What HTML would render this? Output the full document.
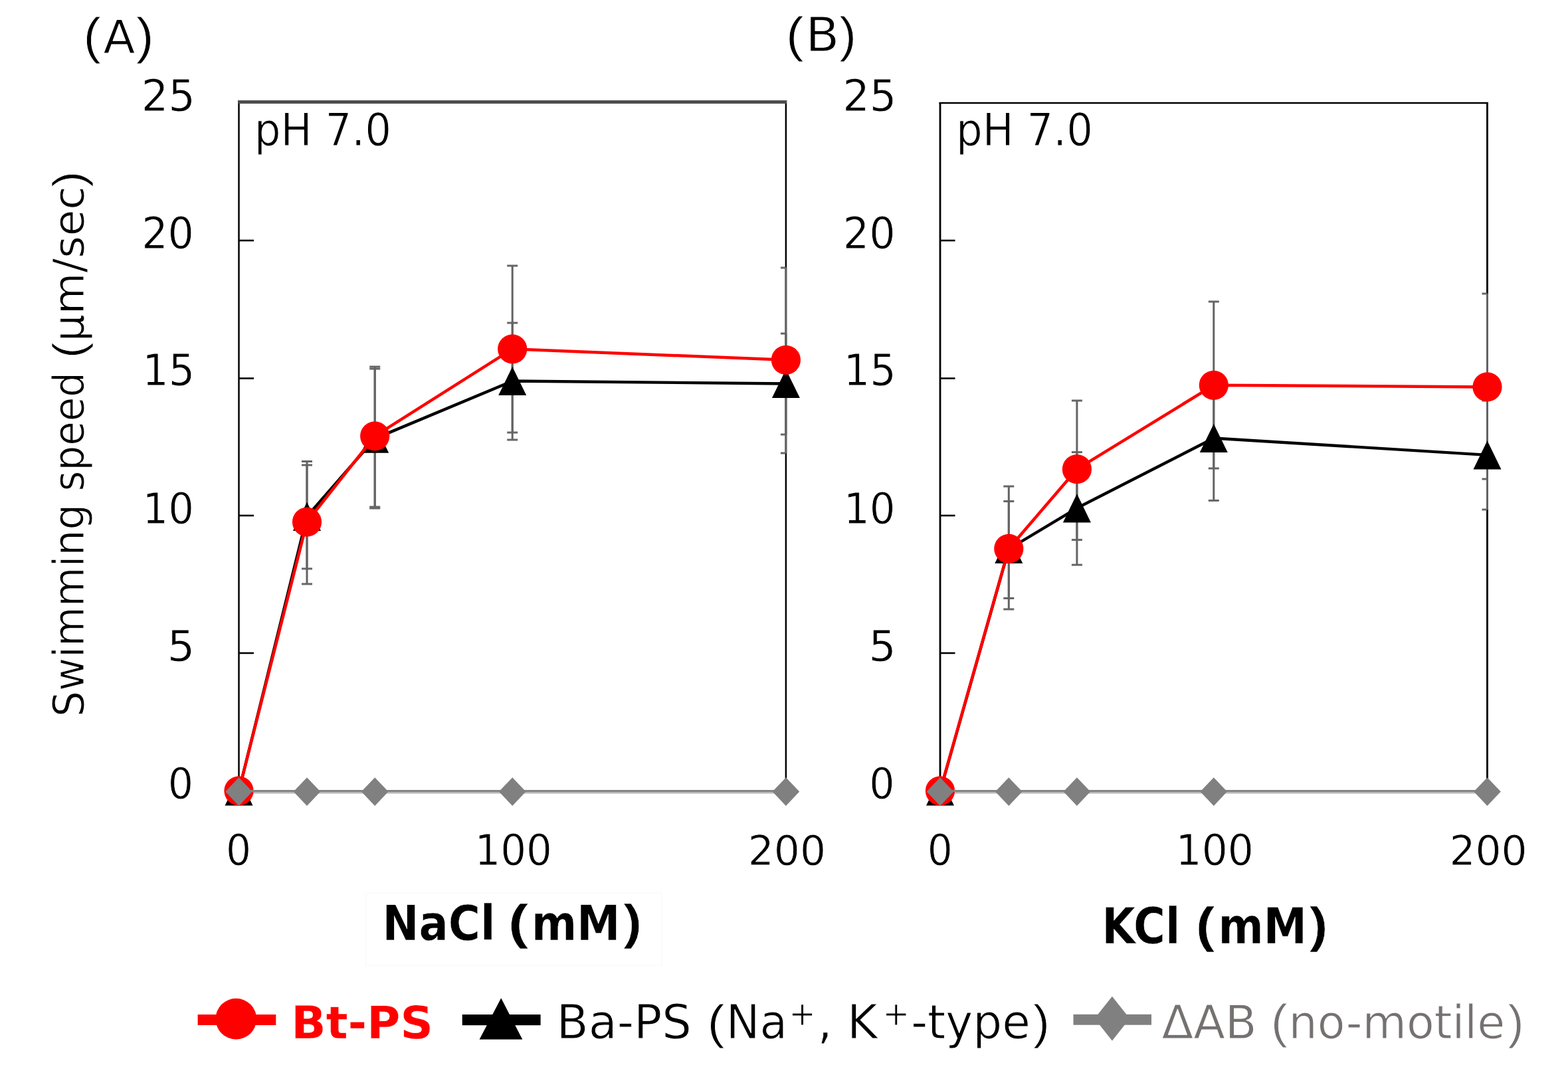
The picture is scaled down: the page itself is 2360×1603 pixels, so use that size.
<!DOCTYPE html>
<html><head><meta charset="utf-8"><title>Swimming speed vs NaCl / KCl</title>
<style>html,body{margin:0;padding:0;background:#fff;}svg{display:block;}
</style></head>
<body><svg width="2360" height="1603" viewBox="0 0 2360 1603" font-family="'DejaVu Sans', 'Liberation Sans', sans-serif" font-size="100">
<rect x="0" y="0" width="2360" height="1603" fill="#fff"/>
<rect x="551" y="1344" width="445" height="109" fill="none" stroke="#fbfbfb" stroke-width="2"/>
<line x1="359.5" y1="1193.2" x2="1182.9" y2="1193.2" stroke="#b8b8b8" stroke-width="2.6"/>
<line x1="359.5" y1="362" x2="382.0" y2="362" stroke="#000" stroke-width="2.6"/>
<line x1="359.5" y1="569.5" x2="382.0" y2="569.5" stroke="#000" stroke-width="2.6"/>
<line x1="359.5" y1="776" x2="382.0" y2="776" stroke="#000" stroke-width="2.6"/>
<line x1="359.5" y1="983" x2="382.0" y2="983" stroke="#000" stroke-width="2.6"/>
<line x1="359.5" y1="151" x2="359.5" y2="1190" stroke="#000" stroke-width="2.5"/>
<line x1="1182.9" y1="151" x2="1182.9" y2="1190" stroke="#000" stroke-width="2.5"/>
<line x1="358.3" y1="153.6" x2="1184.2" y2="153.6" stroke="#4d4d4d" stroke-width="5"/>
<line x1="462.0" y1="700" x2="462.0" y2="856" stroke="#636363" stroke-width="3"/>
<line x1="454.0" y1="700" x2="470.0" y2="700" stroke="#666" stroke-width="3"/>
<line x1="454.0" y1="856" x2="470.0" y2="856" stroke="#666" stroke-width="3"/>
<line x1="564.2" y1="555" x2="564.2" y2="763" stroke="#636363" stroke-width="3"/>
<line x1="556.2" y1="555" x2="572.2" y2="555" stroke="#666" stroke-width="3"/>
<line x1="556.2" y1="763" x2="572.2" y2="763" stroke="#666" stroke-width="3"/>
<line x1="771.2" y1="486" x2="771.2" y2="662" stroke="#636363" stroke-width="3"/>
<line x1="763.2" y1="486" x2="779.2" y2="486" stroke="#666" stroke-width="3"/>
<line x1="763.2" y1="662" x2="779.2" y2="662" stroke="#666" stroke-width="3"/>
<line x1="1182.9" y1="502" x2="1182.9" y2="654" stroke="#636363" stroke-width="3"/>
<line x1="1174.9" y1="502" x2="1182.9" y2="502" stroke="#666" stroke-width="3"/>
<line x1="1174.9" y1="654" x2="1182.9" y2="654" stroke="#666" stroke-width="3"/>
<line x1="462.0" y1="694.5" x2="462.0" y2="879" stroke="#636363" stroke-width="3"/>
<line x1="454.0" y1="694.5" x2="470.0" y2="694.5" stroke="#666" stroke-width="3"/>
<line x1="454.0" y1="879" x2="470.0" y2="879" stroke="#666" stroke-width="3"/>
<line x1="564.2" y1="552" x2="564.2" y2="765" stroke="#636363" stroke-width="3"/>
<line x1="556.2" y1="552" x2="572.2" y2="552" stroke="#666" stroke-width="3"/>
<line x1="556.2" y1="765" x2="572.2" y2="765" stroke="#666" stroke-width="3"/>
<line x1="771.2" y1="400" x2="771.2" y2="651" stroke="#636363" stroke-width="3"/>
<line x1="763.2" y1="400" x2="779.2" y2="400" stroke="#666" stroke-width="3"/>
<line x1="763.2" y1="651" x2="779.2" y2="651" stroke="#666" stroke-width="3"/>
<line x1="1182.9" y1="403" x2="1182.9" y2="682" stroke="#636363" stroke-width="3"/>
<line x1="1174.9" y1="403" x2="1182.9" y2="403" stroke="#666" stroke-width="3"/>
<line x1="1174.9" y1="682" x2="1182.9" y2="682" stroke="#666" stroke-width="3"/>
<polyline points="359.5,1191 462.0,777.3 564.2,660.1 771.2,573.5 1182.9,577.5" fill="none" stroke="#000" stroke-width="4.4" stroke-linejoin="round"/>
<polygon points="359.5,1169.4 380.5,1212.6 338.5,1212.6" fill="#000"/>
<polygon points="462.0,755.7 483.0,798.9 441.0,798.9" fill="#000"/>
<polygon points="564.2,638.5 585.2,681.7 543.2,681.7" fill="#000"/>
<polygon points="771.2,551.9 792.2,595.1 750.2,595.1" fill="#000"/>
<polygon points="1182.9,555.9 1203.9,599.1 1161.9,599.1" fill="#000"/>
<polyline points="359.5,1190.3 462.0,785.6 564.2,656.3 771.2,525.3 1182.9,541.8" fill="none" stroke="#f00" stroke-width="4.5" stroke-linejoin="round"/>
<circle cx="359.5" cy="1190.3" r="22.1" fill="#f00"/>
<circle cx="462.0" cy="785.6" r="22.1" fill="#f00"/>
<circle cx="564.2" cy="656.3" r="22.1" fill="#f00"/>
<circle cx="771.2" cy="525.3" r="22.1" fill="#f00"/>
<circle cx="1182.9" cy="541.8" r="22.1" fill="#f00"/>
<line x1="359.5" y1="1190.5" x2="1182.9" y2="1190.5" stroke="#858585" stroke-width="3"/>
<polygon points="359.5,1170.3 379.8,1191.6 359.5,1212.9 339.2,1191.6" fill="#808080"/>
<polygon points="462.0,1170.3 482.3,1191.6 462.0,1212.9 441.7,1191.6" fill="#808080"/>
<polygon points="564.2,1170.3 584.5,1191.6 564.2,1212.9 543.9,1191.6" fill="#808080"/>
<polygon points="771.2,1170.3 791.5,1191.6 771.2,1212.9 750.9,1191.6" fill="#808080"/>
<polygon points="1182.9,1170.3 1203.2,1191.6 1182.9,1212.9 1162.6,1191.6" fill="#808080"/>
<line x1="1415.0" y1="1193.2" x2="2238.5" y2="1193.2" stroke="#b8b8b8" stroke-width="2.6"/>
<line x1="1415.0" y1="362" x2="1437.5" y2="362" stroke="#000" stroke-width="2.6"/>
<line x1="1415.0" y1="569.5" x2="1437.5" y2="569.5" stroke="#000" stroke-width="2.6"/>
<line x1="1415.0" y1="776" x2="1437.5" y2="776" stroke="#000" stroke-width="2.6"/>
<line x1="1415.0" y1="983" x2="1437.5" y2="983" stroke="#000" stroke-width="2.6"/>
<line x1="1415.0" y1="154" x2="1415.0" y2="1190" stroke="#000" stroke-width="2.8"/>
<line x1="2238.5" y1="154" x2="2238.5" y2="1190" stroke="#000" stroke-width="2.9"/>
<line x1="1413.6" y1="155" x2="2240.0" y2="155" stroke="#000" stroke-width="2.6"/>
<line x1="1518.3" y1="754.5" x2="1518.3" y2="900.5" stroke="#636363" stroke-width="3"/>
<line x1="1510.3" y1="754.5" x2="1526.3" y2="754.5" stroke="#666" stroke-width="3"/>
<line x1="1510.3" y1="900.5" x2="1526.3" y2="900.5" stroke="#666" stroke-width="3"/>
<line x1="1620.9" y1="680.6" x2="1620.9" y2="850.2" stroke="#636363" stroke-width="3"/>
<line x1="1612.9" y1="680.6" x2="1628.9" y2="680.6" stroke="#666" stroke-width="3"/>
<line x1="1612.9" y1="850.2" x2="1628.9" y2="850.2" stroke="#666" stroke-width="3"/>
<line x1="1826.8" y1="565" x2="1826.8" y2="753.4" stroke="#636363" stroke-width="3"/>
<line x1="1818.8" y1="565" x2="1834.8" y2="565" stroke="#666" stroke-width="3"/>
<line x1="1818.8" y1="753.4" x2="1834.8" y2="753.4" stroke="#666" stroke-width="3"/>
<line x1="2238.5" y1="603" x2="2238.5" y2="767" stroke="#636363" stroke-width="3"/>
<line x1="2230.5" y1="603" x2="2238.5" y2="603" stroke="#666" stroke-width="3"/>
<line x1="2230.5" y1="767" x2="2238.5" y2="767" stroke="#666" stroke-width="3"/>
<line x1="1518.3" y1="732" x2="1518.3" y2="917" stroke="#636363" stroke-width="3"/>
<line x1="1510.3" y1="732" x2="1526.3" y2="732" stroke="#666" stroke-width="3"/>
<line x1="1510.3" y1="917" x2="1526.3" y2="917" stroke="#666" stroke-width="3"/>
<line x1="1620.9" y1="603" x2="1620.9" y2="812.6" stroke="#636363" stroke-width="3"/>
<line x1="1612.9" y1="603" x2="1628.9" y2="603" stroke="#666" stroke-width="3"/>
<line x1="1612.9" y1="812.6" x2="1628.9" y2="812.6" stroke="#666" stroke-width="3"/>
<line x1="1826.8" y1="454" x2="1826.8" y2="705" stroke="#636363" stroke-width="3"/>
<line x1="1818.8" y1="454" x2="1834.8" y2="454" stroke="#666" stroke-width="3"/>
<line x1="1818.8" y1="705" x2="1834.8" y2="705" stroke="#666" stroke-width="3"/>
<line x1="2238.5" y1="442" x2="2238.5" y2="721" stroke="#636363" stroke-width="3"/>
<line x1="2230.5" y1="442" x2="2238.5" y2="442" stroke="#666" stroke-width="3"/>
<line x1="2230.5" y1="721" x2="2238.5" y2="721" stroke="#666" stroke-width="3"/>
<polyline points="1415.0,1191 1518.3,826.4 1620.9,764.8 1826.8,659.5 2238.5,684.9" fill="none" stroke="#000" stroke-width="4.4" stroke-linejoin="round"/>
<polygon points="1415.0,1169.4 1436.0,1212.6 1394.0,1212.6" fill="#000"/>
<polygon points="1518.3,804.8 1539.3,848.0 1497.3,848.0" fill="#000"/>
<polygon points="1620.9,743.2 1641.9,786.4 1599.9,786.4" fill="#000"/>
<polygon points="1826.8,637.9 1847.8,681.1 1805.8,681.1" fill="#000"/>
<polygon points="2238.5,663.3 2259.5,706.5 2217.5,706.5" fill="#000"/>
<polyline points="1415.0,1190.3 1518.3,825.9 1620.9,706.2 1826.8,579.8 2238.5,582.4" fill="none" stroke="#f00" stroke-width="4.5" stroke-linejoin="round"/>
<circle cx="1415.0" cy="1190.3" r="22.1" fill="#f00"/>
<circle cx="1518.3" cy="825.9" r="22.1" fill="#f00"/>
<circle cx="1620.9" cy="706.2" r="22.1" fill="#f00"/>
<circle cx="1826.8" cy="579.8" r="22.1" fill="#f00"/>
<circle cx="2238.5" cy="582.4" r="22.1" fill="#f00"/>
<line x1="1415.0" y1="1190.5" x2="2238.5" y2="1190.5" stroke="#858585" stroke-width="3"/>
<polygon points="1415.0,1170.3 1435.3,1191.6 1415.0,1212.9 1394.7,1191.6" fill="#808080"/>
<polygon points="1518.3,1170.3 1538.6,1191.6 1518.3,1212.9 1498.0,1191.6" fill="#808080"/>
<polygon points="1620.9,1170.3 1641.2,1191.6 1620.9,1212.9 1600.6,1191.6" fill="#808080"/>
<polygon points="1826.8,1170.3 1847.0,1191.6 1826.8,1212.9 1806.5,1191.6" fill="#808080"/>
<polygon points="2238.5,1170.3 2258.8,1191.6 2238.5,1212.9 2218.2,1191.6" fill="#808080"/>
<text transform="translate(125.45 80.03) scale(0.7923 0.7511)" font-family="'Liberation Sans', sans-serif" fill="#000" stroke="#fff" stroke-width="1.04" stroke-linejoin="round">(</text>
<text transform="translate(155.50 79.70) scale(0.7000 0.7027)" fill="#000" stroke="#fff" stroke-width="1.43" stroke-linejoin="round">A</text>
<text transform="translate(204.80 80.03) scale(0.8038 0.7511)" font-family="'Liberation Sans', sans-serif" fill="#000" stroke="#fff" stroke-width="1.03" stroke-linejoin="round">)</text>
<text transform="translate(1182.88 77.59) scale(0.8038 0.7479)" font-family="'Liberation Sans', sans-serif" fill="#000" stroke="#fff" stroke-width="1.03" stroke-linejoin="round">(</text>
<text transform="translate(1212.61 76.80) scale(0.7392 0.7068)" fill="#000" stroke="#fff" stroke-width="1.38" stroke-linejoin="round">B</text>
<text transform="translate(1263.23 77.59) scale(0.7692 0.7479)" font-family="'Liberation Sans', sans-serif" fill="#000" stroke="#fff" stroke-width="1.05" stroke-linejoin="round">)</text>
<text transform="translate(382.76 218.90) scale(0.6261 0.6726)" fill="#000" stroke="#fff" stroke-width="1.54" stroke-linejoin="round">pH 7.0</text>
<text transform="translate(1438.97 219.00) scale(0.6255 0.6753)" fill="#000" stroke="#fff" stroke-width="1.54" stroke-linejoin="round">pH 7.0</text>
<text transform="translate(212.63 166.93) scale(0.6387 0.6667)" fill="#000" stroke="#fff" stroke-width="1.23" stroke-linejoin="round">25</text>
<text transform="translate(213.16 373.65) scale(0.6195 0.6526)" fill="#000" stroke="#fff" stroke-width="1.26" stroke-linejoin="round">20</text>
<text transform="translate(214.27 580.34) scale(0.6206 0.6568)" fill="#000" stroke="#fff" stroke-width="1.25" stroke-linejoin="round">15</text>
<text transform="translate(214.40 787.75) scale(0.6092 0.6461)" fill="#000" stroke="#fff" stroke-width="1.28" stroke-linejoin="round">10</text>
<text transform="translate(251.77 994.96) scale(0.6532 0.6446)" fill="#000" stroke="#fff" stroke-width="1.23" stroke-linejoin="round">5</text>
<text transform="translate(252.69 1202.06) scale(0.6020 0.6434)" fill="#000" stroke="#fff" stroke-width="1.29" stroke-linejoin="round">0</text>
<text transform="translate(1268.23 166.93) scale(0.6387 0.6667)" fill="#000" stroke="#fff" stroke-width="1.23" stroke-linejoin="round">25</text>
<text transform="translate(1268.76 373.65) scale(0.6195 0.6526)" fill="#000" stroke="#fff" stroke-width="1.26" stroke-linejoin="round">20</text>
<text transform="translate(1269.87 580.34) scale(0.6206 0.6568)" fill="#000" stroke="#fff" stroke-width="1.25" stroke-linejoin="round">15</text>
<text transform="translate(1270.00 787.75) scale(0.6092 0.6461)" fill="#000" stroke="#fff" stroke-width="1.28" stroke-linejoin="round">10</text>
<text transform="translate(1307.37 994.96) scale(0.6532 0.6446)" fill="#000" stroke="#fff" stroke-width="1.23" stroke-linejoin="round">5</text>
<text transform="translate(1308.29 1202.06) scale(0.6020 0.6434)" fill="#000" stroke="#fff" stroke-width="1.29" stroke-linejoin="round">0</text>
<text transform="translate(340.11 1301.97) scale(0.5980 0.6316)" fill="#000" stroke="#fff" stroke-width="1.30" stroke-linejoin="round">0</text>
<text transform="translate(714.38 1301.97) scale(0.6110 0.6316)" fill="#000" stroke="#fff" stroke-width="1.29" stroke-linejoin="round">100</text>
<text transform="translate(1125.80 1301.97) scale(0.6141 0.6316)" fill="#000" stroke="#fff" stroke-width="1.28" stroke-linejoin="round">200</text>
<text transform="translate(1395.81 1301.97) scale(0.5980 0.6316)" fill="#000" stroke="#fff" stroke-width="1.30" stroke-linejoin="round">0</text>
<text transform="translate(1769.54 1301.97) scale(0.6145 0.6316)" fill="#000" stroke="#fff" stroke-width="1.28" stroke-linejoin="round">100</text>
<text transform="translate(2181.40 1301.97) scale(0.6141 0.6316)" fill="#000" stroke="#fff" stroke-width="1.28" stroke-linejoin="round">200</text>
<text transform="translate(575.38 1414.60) scale(0.6577 0.7370)" font-weight="bold" fill="#000" stroke="#fff" stroke-width="0.72" stroke-linejoin="round">NaCl</text>
<text transform="translate(765.06 1413.25) scale(0.9071 0.7309)" font-family="'Liberation Sans', sans-serif" font-weight="bold" fill="#000" stroke="#fff" stroke-width="0.61" stroke-linejoin="round">(</text>
<text transform="translate(799.64 1414.60) scale(0.6572 0.7370)" font-weight="bold" fill="#000" stroke="#fff" stroke-width="0.72" stroke-linejoin="round">mM</text>
<text transform="translate(938.60 1413.25) scale(0.8214 0.7309)" font-family="'Liberation Sans', sans-serif" font-weight="bold" fill="#000" stroke="#fff" stroke-width="0.65" stroke-linejoin="round">)</text>
<text transform="translate(1658.31 1420.10) scale(0.6540 0.7438)" font-weight="bold" fill="#000" stroke="#fff" stroke-width="0.72" stroke-linejoin="round">KCl</text>
<text transform="translate(1800.07 1418.29) scale(0.8464 0.7479)" font-family="'Liberation Sans', sans-serif" font-weight="bold" fill="#000" stroke="#fff" stroke-width="0.63" stroke-linejoin="round">(</text>
<text transform="translate(1833.46 1420.10) scale(0.6556 0.7438)" font-weight="bold" fill="#000" stroke="#fff" stroke-width="0.72" stroke-linejoin="round">mM</text>
<text transform="translate(1971.10 1418.29) scale(0.8179 0.7479)" font-family="'Liberation Sans', sans-serif" font-weight="bold" fill="#000" stroke="#fff" stroke-width="0.64" stroke-linejoin="round">)</text>
<text transform="translate(125.90 1078.99) rotate(-90) scale(0.6132 0.6470)" fill="#000" stroke="#fff" stroke-width="1.59" stroke-linejoin="round">Swimming</text>
<text transform="translate(125.90 739.47) rotate(-90) scale(0.5938 0.6470)" fill="#000" stroke="#fff" stroke-width="1.61" stroke-linejoin="round">speed</text>
<text transform="translate(125.74 538.89) rotate(-90) scale(0.7154 0.6649)" font-family="'Liberation Sans', sans-serif" fill="#000" stroke="#fff" stroke-width="1.16" stroke-linejoin="round">(</text>
<text transform="translate(125.90 514.30) rotate(-90) scale(0.6443 0.6470)" fill="#000" stroke="#fff" stroke-width="1.55" stroke-linejoin="round">μm/sec</text>
<text transform="translate(125.74 281.72) rotate(-90) scale(0.7154 0.6649)" font-family="'Liberation Sans', sans-serif" fill="#000" stroke="#fff" stroke-width="1.16" stroke-linejoin="round">)</text>
<rect x="297.6" y="1527" width="117.7" height="16" fill="#f00"/>
<circle cx="355.3" cy="1533.6" r="30.8" fill="#f00"/>
<text transform="translate(438.21 1562.92) scale(0.6878 0.6840)" font-weight="bold" fill="#f00" stroke="#fff" stroke-width="0.44" stroke-linejoin="round">Bt-PS</text>
<rect x="695.7" y="1527" width="117.9" height="16.2" fill="#000"/>
<polygon points="754.2,1502.3 786.3,1564.5 721.6,1564.5" fill="#000"/>
<text transform="translate(837.48 1563.40) scale(0.7022 0.7137)" fill="#000" stroke="#fff" stroke-width="1.41" stroke-linejoin="round">Ba-PS</text>
<text transform="translate(1064.64 1562.74) scale(0.7769 0.7266)" font-family="'Liberation Sans', sans-serif" fill="#000" stroke="#fff" stroke-width="1.06" stroke-linejoin="round">(</text>
<text transform="translate(1092.81 1563.40) scale(0.6786 0.7137)" fill="#000" stroke="#fff" stroke-width="1.44" stroke-linejoin="round">Na</text>
<text transform="translate(1187.22 1571.53) scale(0.7692 0.8857)" fill="#000" stroke="#fff" stroke-width="1.21" stroke-linejoin="round">⁺</text>
<text transform="translate(1230.60 1562.90) scale(0.7000 0.7068)" fill="#000" stroke="#fff" stroke-width="1.42" stroke-linejoin="round">, K</text>
<text transform="translate(1328.62 1571.53) scale(0.7692 0.8857)" fill="#000" stroke="#fff" stroke-width="1.21" stroke-linejoin="round">⁺</text>
<text transform="translate(1371.14 1563.00) scale(0.6924 0.7096)" fill="#000" stroke="#fff" stroke-width="1.43" stroke-linejoin="round">-type</text>
<text transform="translate(1554.96 1562.75) scale(0.7423 0.7309)" font-family="'Liberation Sans', sans-serif" fill="#000" stroke="#fff" stroke-width="1.09" stroke-linejoin="round">)</text>
<rect x="1615.5" y="1526.8" width="117.5" height="15.9" fill="#808080"/>
<polygon points="1673.9,1499.7 1700.4,1533.1 1673.9,1566.5 1647.4,1533.1" fill="#808080"/>
<text transform="translate(1748.40 1562.60) scale(0.6980 0.7027)" fill="#767171" stroke="#fff" stroke-width="1.43" stroke-linejoin="round">ΔAB</text>
<text transform="translate(1913.12 1561.98) scale(0.7462 0.7202)" font-family="'Liberation Sans', sans-serif" fill="#767171" stroke="#fff" stroke-width="1.09" stroke-linejoin="round">(</text>
<text transform="translate(1939.56 1562.60) scale(0.6825 0.7027)" fill="#767171" stroke="#fff" stroke-width="1.44" stroke-linejoin="round">no-motile</text>
<text transform="translate(2269.38 1562.65) scale(0.7192 0.7309)" font-family="'Liberation Sans', sans-serif" fill="#767171" stroke="#fff" stroke-width="1.10" stroke-linejoin="round">)</text>
</svg></body></html>
